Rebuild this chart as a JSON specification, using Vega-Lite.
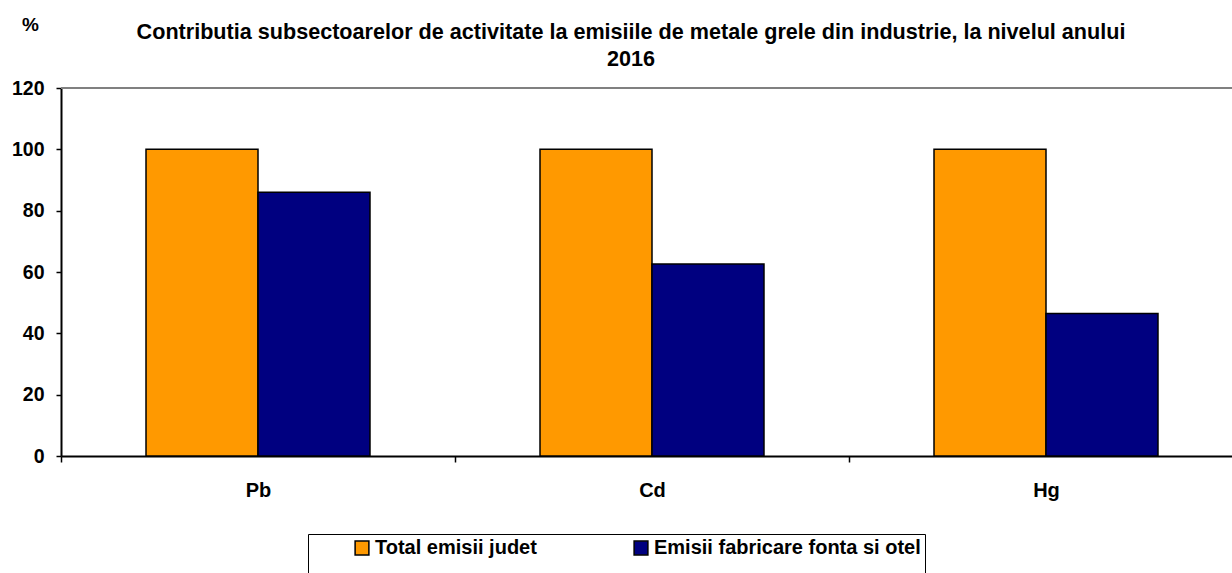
{
  "$schema": "https://vega.github.io/schema/vega-lite/v6.json",
  "autosize": {"type": "none"},
  "width": 1182,
  "height": 368,
  "padding": {"left": 61, "top": 88, "right": 0, "bottom": 117},
  "background": "white",
  "config": {
    "font": "Liberation Sans",
    "view": {"stroke": null}
  },
  "title": {
    "text": ["Contributia subsectoarelor de activitate la emisiile de metale grele din industrie, la nivelul anului", "2016"],
    "font": "Liberation Sans",
    "fontSize": 21.6,
    "fontWeight": "bold",
    "color": "black",
    "anchor": "middle",
    "frame": "group",
    "dx": -21,
    "lineHeight": 27,
    "offset": -56
  },
  "data": {
    "values": [
      {"metal": "Pb", "series": "Total emisii judet", "value": 100},
      {"metal": "Pb", "series": "Emisii fabricare fonta si otel", "value": 86.0},
      {"metal": "Cd", "series": "Total emisii judet", "value": 100},
      {"metal": "Cd", "series": "Emisii fabricare fonta si otel", "value": 62.6},
      {"metal": "Hg", "series": "Total emisii judet", "value": 100},
      {"metal": "Hg", "series": "Emisii fabricare fonta si otel", "value": 46.5}
    ]
  },
  "layer": [
    {
      "mark": {"type": "rule", "color": "#808080", "strokeWidth": 2},
      "encoding": {"y": {"datum": 120, "type": "quantitative"}}
    },
    {
      "mark": {"type": "bar", "stroke": "black", "strokeWidth": 1.5},
      "encoding": {
        "x": {
          "field": "metal",
          "type": "nominal",
          "sort": ["Pb", "Cd", "Hg"],
          "scale": {"paddingInner": 0, "paddingOuter": 0},
          "axis": {
            "title": null,
            "labelAngle": 0,
            "labelFont": "Liberation Sans",
            "labelFontSize": 20,
            "labelFontWeight": "bold",
            "labelColor": "black",
            "labelPadding": 18,
            "domainColor": "black",
            "domainWidth": 2,
            "tickColor": "black",
            "tickWidth": 1.5,
            "tickSize": 6,
            "tickBand": "extent",
            "grid": false
          }
        },
        "xOffset": {
          "field": "series",
          "type": "nominal",
          "sort": ["Total emisii judet", "Emisii fabricare fonta si otel"],
          "scale": {"paddingInner": 0, "paddingOuter": 0.759}
        },
        "y": {
          "field": "value",
          "type": "quantitative",
          "scale": {"domain": [0, 120], "nice": false},
          "axis": {
            "title": "%",
            "titleAngle": 0,
            "titleX": -31,
            "titleY": -54,
            "titleFont": "Liberation Sans",
            "titleFontSize": 19,
            "titleFontWeight": "bold",
            "titleColor": "black",
            "titleAlign": "center",
            "values": [0, 20, 40, 60, 80, 100, 120],
            "labelFont": "Liberation Sans",
            "labelFontSize": 19.5,
            "labelFontWeight": "bold",
            "labelColor": "black",
            "labelPadding": 12,
            "domainColor": "black",
            "domainWidth": 2,
            "tickColor": "black",
            "tickWidth": 1.5,
            "tickSize": 5,
            "grid": false
          }
        },
        "color": {
          "field": "series",
          "type": "nominal",
          "scale": {
            "domain": ["Total emisii judet", "Emisii fabricare fonta si otel"],
            "range": ["#FF9900", "#000080"]
          },
          "legend": {
            "orient": "none",
            "legendX": 247,
            "legendY": 446,
            "direction": "horizontal",
            "title": " ",
            "titleOrient": "left",
            "titleFontSize": 45,
            "titleBaseline": "top",
            "titlePadding": 40,
            "symbolType": "square",
            "symbolSize": 190,
            "symbolStrokeColor": "black",
            "symbolStrokeWidth": 1.5,
            "symbolOpacity": 1,
            "labelFont": "Liberation Sans",
            "labelFontSize": 20,
            "labelFontWeight": "bold",
            "labelColor": "black",
            "labelOffset": 3,
            "labelLimit": 0,
            "labelExpr": "datum.label == 'Emisii fabricare fonta si otel' ? datum.label + '\u00a0\u00a0\u00a0\u00a0\u00a0\u00a0\u00a0\u00a0\u00a0\u00a0\u00a0\u00a0\u00a0\u00a0\u00a0\u00a0' : datum.label",
            "columnPadding": 94,
            "strokeColor": "black",
            "padding": 4,
            "fillColor": "white"
          }
        }
      }
    }
  ]
}
